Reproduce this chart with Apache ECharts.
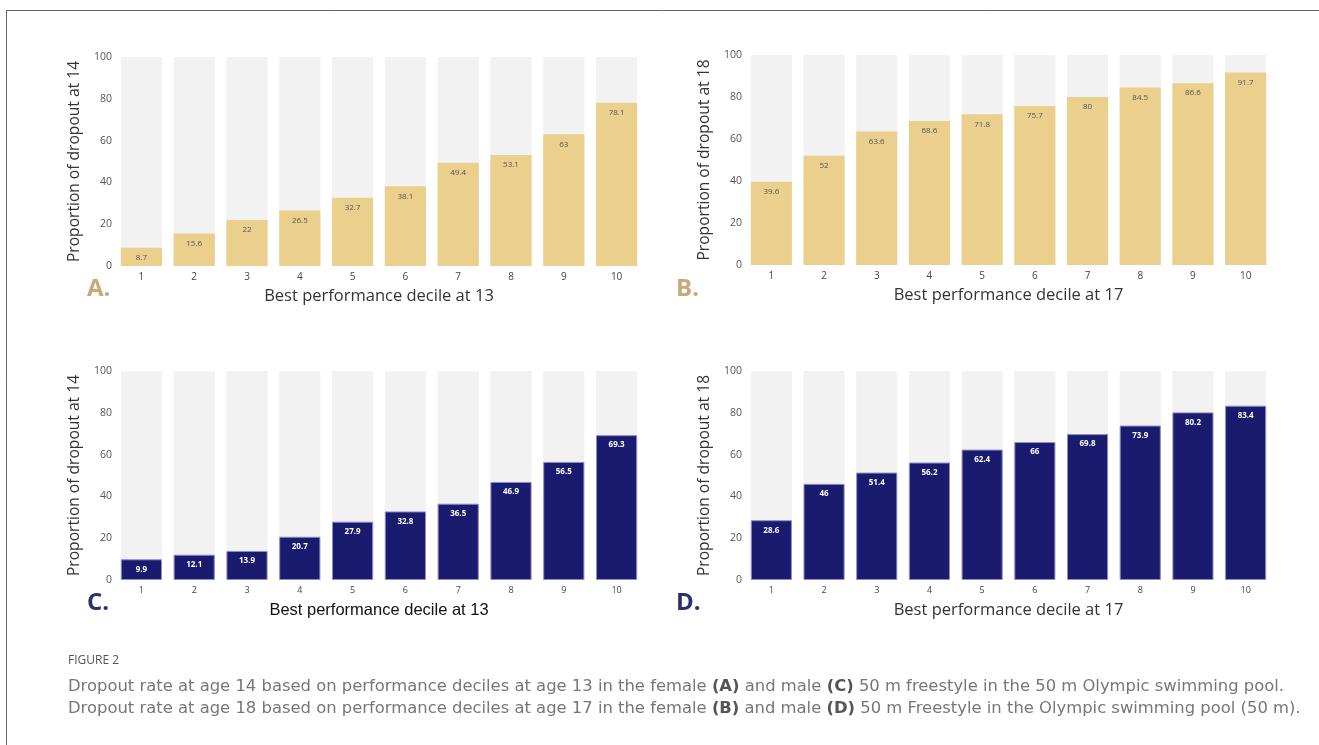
<!DOCTYPE html>
<html>
<head>
<meta charset="utf-8">
<script src="https://cdn.jsdelivr.net/npm/echarts@6/dist/echarts.min.js"></script>
<style>html,body{margin:0;padding:0;background:#fff}#c{width:1319px;height:745px}</style>
</head>
<body>
<div id="c"></div>
<script>
const deciles = ['1','2','3','4','5','6','7','8','9','10'];
const femaleAt14 = [8.7, 15.6, 22, 26.5, 32.7, 38.1, 49.4, 53.1, 63, 78.1];
const femaleAt18 = [39.6, 52, 63.6, 68.6, 71.8, 75.7, 80, 84.5, 86.6, 91.7];
const maleAt14 = [9.9, 12.1, 13.9, 20.7, 27.9, 32.8, 36.5, 46.9, 56.5, 69.3];
const maleAt18 = [28.6, 46, 51.4, 56.2, 62.4, 66, 69.8, 73.9, 80.2, 83.4];
const fullScale = [100, 100, 100, 100, 100, 100, 100, 100, 100, 100];
const yTitles = ['Proportion of dropout at 14', 'Proportion of dropout at 18', 'Proportion of dropout at 14', 'Proportion of dropout at 18'];
const xTitles = ['Best performance decile at 13', 'Best performance decile at 17', 'Best performance decile at 13', 'Best performance decile at 17'];

const GOLD = '#ebcf8c', NAVY = '#1a1a6e', BG = '#f2f2f2';
const grids = [
  {left: 115, right: 676, top: 57, bottom: 479},
  {left: 745, right: 47, top: 55, bottom: 480},
  {left: 115, right: 676, top: 371, bottom: 165},
  {left: 745, right: 47, top: 371, bottom: 165}
];
const panels = [
  {data: femaleAt14, color: GOLD, label: '#555', border: GOLD, xFont: 'Open Sans', xSize: 16.5, xColor: '#333'},
  {data: femaleAt18, color: GOLD, label: '#555', border: GOLD, xFont: 'Open Sans', xSize: 16.5, xColor: '#333'},
  {data: maleAt14, color: NAVY, label: '#fff', border: '#8c8cc8', xFont: 'Liberation Sans', xSize: 16.5, xColor: '#111'},
  {data: maleAt18, color: NAVY, label: '#fff', border: '#8c8cc8', xFont: 'Open Sans', xSize: 16.5, xColor: '#333'}
];

const xAxis = [], yAxis = [], series = [];
panels.forEach((p, i) => {
  xAxis.push({
    type: 'category', gridIndex: i, data: deciles,
    axisLine: {show: false}, axisTick: {show: false},
    axisLabel: {color: '#444', fontSize: i >= 2 ? 9 : 10, margin: 6, fontFamily: 'Open Sans'},
    name: xTitles[i], nameLocation: 'middle', nameGap: 22,
    nameTextStyle: {fontSize: p.xSize, color: p.xColor, fontFamily: p.xFont}
  });
  yAxis.push({
    type: 'value', gridIndex: i, min: 0, max: 100, interval: 20,
    axisLine: {show: false}, axisTick: {show: false},
    splitLine: {show: false},
    axisLabel: {color: '#555', fontSize: 10.5, margin: 3, fontFamily: 'Open Sans'},
    name: yTitles[i], nameLocation: 'middle', nameGap: 32, nameRotate: 90,
    nameTextStyle: {fontSize: 15.6, color: '#333', fontFamily: 'Open Sans'}
  });
  series.push({
    type: 'bar', xAxisIndex: i, yAxisIndex: i, data: fullScale,
    barCategoryGap: '22%', barGap: '-100%', silent: true,
    itemStyle: {color: BG}, z: 1
  });
  series.push({
    type: 'bar', xAxisIndex: i, yAxisIndex: i, data: p.data,
    barCategoryGap: '22%', barGap: '-100%', z: 2,
    itemStyle: {color: p.color, borderColor: p.border, borderWidth: i >= 2 ? 1 : 0},
    label: {show: true, position: 'insideTop', distance: 6, color: p.label, fontSize: 8,
      fontFamily: 'Open Sans', fontWeight: i >= 2 ? 'bold' : 'normal'}
  });
});

const letters = [
  {t: 'A.', x: 87, y: 289, c: '#c9a87a'},
  {t: 'B.', x: 676, y: 289, c: '#c9a87a'},
  {t: 'C.', x: 87, y: 603, c: '#2b3170'},
  {t: 'D.', x: 676, y: 603, c: '#2b3170'}
];
const graphic = [
  {type: 'line', shape: {x1: 6, y1: 10.5, x2: 1319, y2: 10.5}, style: {stroke: '#666', lineWidth: 1}},
  {type: 'line', shape: {x1: 6.5, y1: 10, x2: 6.5, y2: 745}, style: {stroke: '#666', lineWidth: 1}}
];
letters.forEach(l => graphic.push({type: 'text', x: l.x, y: l.y,
  style: {text: l.t, fill: l.c, font: 'bold 24px "Open Sans"', textVerticalAlign: 'middle'}}));
graphic.push({type: 'text', x: 68, y: 661, style: {text: 'FIGURE 2', fill: '#555', font: '12px "Open Sans"', textVerticalAlign: 'middle'}});
const capRich = {b: {fontWeight: 'bold', fontSize: 16.4, fontFamily: 'DejaVu Sans', fill: '#555'}};
graphic.push({type: 'text', x: 68, y: 687, style: {
  text: 'Dropout rate at age 14 based on performance deciles at age 13 in the female {b|(A)} and male {b|(C)} 50 m freestyle in the 50 m Olympic swimming pool.',
  fill: '#777', font: '16.4px "DejaVu Sans"', textVerticalAlign: 'middle', rich: capRich}});
graphic.push({type: 'text', x: 68, y: 709, style: {
  text: 'Dropout rate at age 18 based on performance deciles at age 17 in the female {b|(B)} and male {b|(D)} 50 m Freestyle in the Olympic swimming pool (50 m).',
  fill: '#777', font: '16.4px "DejaVu Sans"', textVerticalAlign: 'middle', rich: capRich}});

const chart = echarts.init(document.getElementById('c'));
chart.setOption({
  animation: false, backgroundColor: '#fff',
  grid: grids, xAxis, yAxis, series, graphic
});
</script>
</body>
</html>
